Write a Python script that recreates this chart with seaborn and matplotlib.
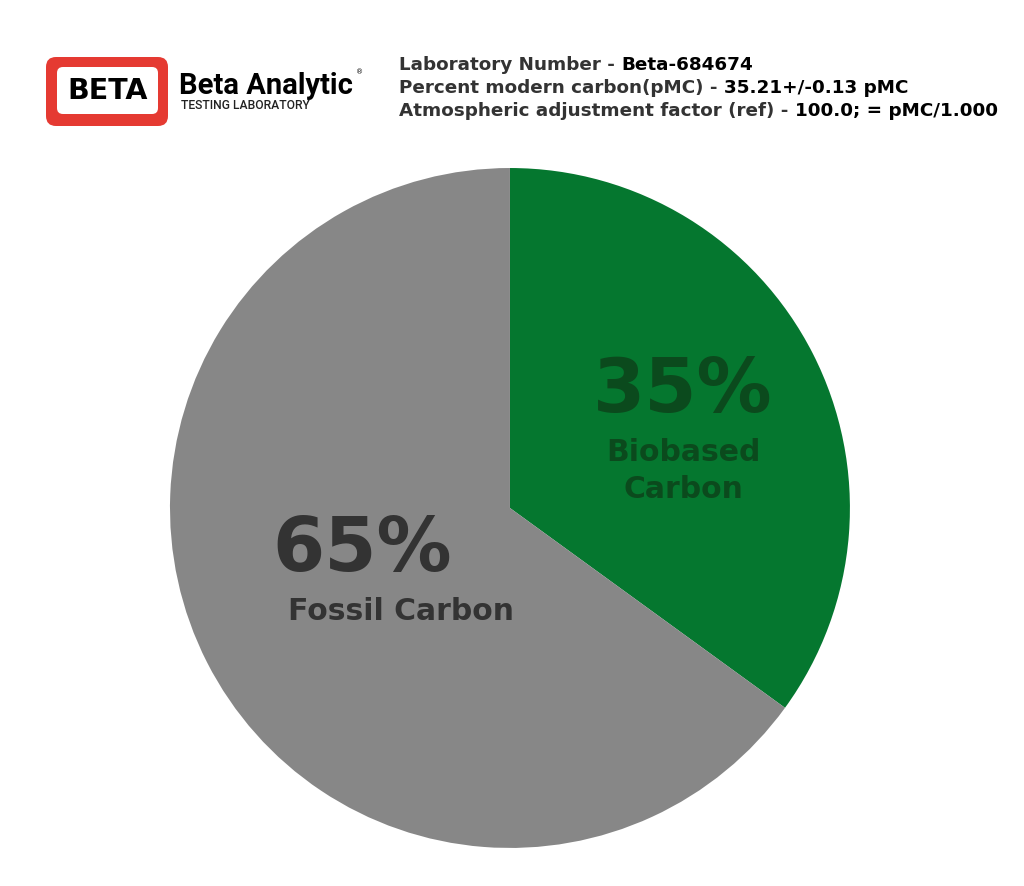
import matplotlib
matplotlib.use("Agg")
import matplotlib.pyplot as plt
import seaborn as sns
from matplotlib.patches import FancyBboxPatch

# dati del grafico
etichette = ["Biobased\nCarbon", "Fossil Carbon"]
percentuali = [35, 65]
colori = ["#05772f", "#878787"]
colori_testo = ["#0b4a1d", "#333333"]
righe_info = [
    ("Laboratory Number - ", "Beta-684674"),
    ("Percent modern carbon(pMC) - ", "35.21+/-0.13 pMC"),
    ("Atmospheric adjustment factor (ref) - ", "100.0; = pMC/1.000"),
]

sns.set_theme(style="white")
plt.rcParams["font.family"] = ["DejaVu Sans"]

fig = plt.figure(figsize=(10.24, 8.86), dpi=100)
fig.patch.set_facecolor("white")

# torta
ax = fig.add_axes([0.166, 0.0429, 0.664, 0.7675])
ax.pie(percentuali, colors=colori, startangle=90, counterclock=False,
       radius=1, wedgeprops={"linewidth": 0})
ax.set_xlim(-1, 1)
ax.set_ylim(-1, 1)
ax.set_aspect("equal")
ax.axis("off")

# etichette dentro le fette
ax.text(0.509, 0.342, f"{percentuali[0]}%", ha="center", va="center",
        fontsize=54, fontweight="bold", color=colori_testo[0])
ax.text(0.509, 0.11, etichette[0], ha="center", va="center",
        fontsize=21.5, fontweight="bold", color=colori_testo[0], linespacing=1.35)
ax.text(-0.435, -0.125, f"{percentuali[1]}%", ha="center", va="center",
        fontsize=54, fontweight="bold", color=colori_testo[1])
ax.text(-0.32, -0.305, etichette[1], ha="center", va="center",
        fontsize=21.5, fontweight="bold", color=colori_testo[1])

# logo
ax_logo = fig.add_axes([0, 0, 1, 1])
ax_logo.set_xlim(0, 1024)
ax_logo.set_ylim(886, 0)
ax_logo.axis("off")
ax_logo.add_patch(FancyBboxPatch((50, 61), 114, 61, boxstyle="round,pad=4,rounding_size=10",
                                 facecolor="#e53a32", edgecolor="none"))
ax_logo.add_patch(FancyBboxPatch((57, 67), 101, 47, boxstyle="round,pad=0,rounding_size=6",
                                 facecolor="white", edgecolor="none"))
ax_logo.text(107.5, 91, "BETA", ha="center", va="center", fontsize=20.5,
             fontweight="heavy", color="black")
ax_logo.text(179, 86, "Beta Analytic", ha="left", va="center", fontsize=21,
             color="black", family=["Roboto", "DejaVu Sans"], fontweight="semibold")
ax_logo.text(356, 72, "®", ha="left", va="center", fontsize=5, color="black")
ax_logo.text(181, 105, "TESTING LABORATORY", ha="left", va="center", fontsize=8.7,
             color="#222222", family=["Roboto", "DejaVu Sans"], fontweight="medium")

# righe di informazioni
y_righe = [65, 88, 111]
for (prefisso, valore), y in zip(righe_info, y_righe):
    t = ax_logo.text(399, y, prefisso, ha="left", va="center", fontsize=13.2,
                     fontweight="bold", color="#333333")
    fig.canvas.draw()
    bb = t.get_window_extent()
    ax_logo.text(bb.x1, y, valore, ha="left", va="center",
                 fontsize=13.2, fontweight="bold", color="black")

fig.savefig("out.png", dpi=100, facecolor="white")
